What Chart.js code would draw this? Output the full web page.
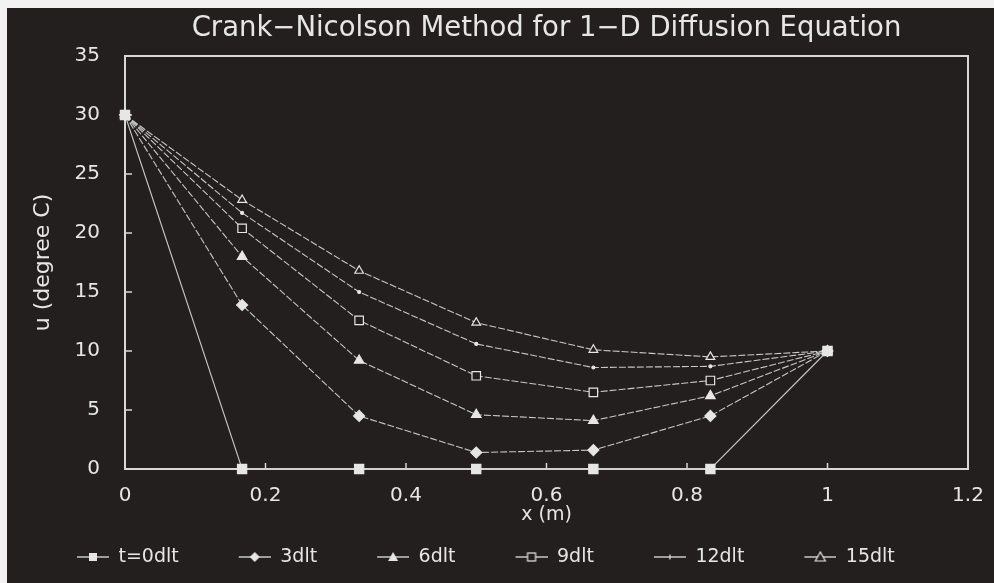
<!DOCTYPE html>
<html>
<head>
<meta charset="utf-8">
<title>Crank-Nicolson 1-D diffusion</title>
<script src="https://cdn.jsdelivr.net/npm/chart.js@4.4.1/dist/chart.umd.min.js"></script>
<style>
  html, body { margin: 0; padding: 0; background: #f2f2f2; }
  #panel { position: absolute; left: 7px; top: 8px; width: 987px; height: 575px; background: #231f1f; }
  canvas { display: block; }
</style>
</head>
<body>
<div id="panel"><canvas id="cn" width="987" height="575"></canvas></div>
<script>
// grid nodes along the rod (m)
const xPos = [0, 0.1667, 0.3333, 0.5, 0.6667, 0.8333, 1];

// temperature profiles u (degree C) at successive time levels
const seriesNames = ['t=0dlt', '3dlt', '6dlt', '9dlt', '12dlt', '15dlt'];
const u0  = [30, 0, 0, 0, 0, 0, 10];
const u3  = [30, 13.9, 4.5, 1.4, 1.6, 4.5, 10];
const u6  = [30, 18.0, 9.2, 4.6, 4.1, 6.2, 10];
const u9  = [30, 20.4, 12.6, 7.9, 6.5, 7.5, 10];
const u12 = [30, 21.7, 15.0, 10.6, 8.6, 8.7, 10];
const u15 = [30, 22.8, 16.8, 12.4, 10.1, 9.5, 10];

const INK = '#e6e6e6';
const LINE = '#c8c8c8';
const BG = '#231f1f';

Chart.defaults.font.family = "'DejaVu Sans', sans-serif";
Chart.defaults.color = INK;

// marker looks per series
const markers = [
  { kind: 'sq',   pointStyle: 'rect',     radius: 6.5, fill: INK },
  { kind: 'dia',  pointStyle: 'rectRot',  radius: 5.5, fill: INK },
  { kind: 'tri',  pointStyle: 'triangle', radius: 5.5, fill: INK },
  { kind: 'osq',  pointStyle: 'rect',     radius: 6,   fill: BG },
  { kind: 'dot',  pointStyle: 'circle',   radius: 1.5, fill: INK },
  { kind: 'otri', pointStyle: 'triangle', radius: 5,   fill: BG }
];

// legend symbol: short line with the marker, padded on the left
function makeIcon(kind) {
  const c = document.createElement('canvas');
  c.width = 82; c.height = 16;
  const g = c.getContext('2d');
  const cx = 66, cy = 8;
  g.strokeStyle = LINE; g.lineWidth = 1.5;
  g.beginPath(); g.moveTo(50, cy); g.lineTo(82, cy); g.stroke();
  g.fillStyle = INK; g.strokeStyle = INK; g.lineWidth = 1.2;
  g.beginPath();
  if (kind === 'sq') { g.fillRect(cx - 4, cy - 4, 8, 8); }
  else if (kind === 'osq') { g.fillStyle = BG; g.fillRect(cx - 4, cy - 4, 8, 8); g.strokeRect(cx - 4, cy - 4, 8, 8); }
  else if (kind === 'dia') { g.moveTo(cx, cy - 5); g.lineTo(cx + 5, cy); g.lineTo(cx, cy + 5); g.lineTo(cx - 5, cy); g.closePath(); g.fill(); }
  else if (kind === 'tri' || kind === 'otri') {
    g.moveTo(cx, cy - 5); g.lineTo(cx + 5, cy + 4); g.lineTo(cx - 5, cy + 4); g.closePath();
    if (kind === 'tri') g.fill(); else { g.fillStyle = BG; g.fill(); g.stroke(); }
  }
  else if (kind === 'dot') { g.moveTo(cx, cy - 2.5); g.lineTo(cx, cy + 2.5); g.stroke(); }
  return c;
}
const legendIcons = markers.map(m => makeIcon(m.kind));

const profiles = [u0, u3, u6, u9, u12, u15];
const datasets = profiles.map((vals, i) => ({
  label: seriesNames[i],
  data: xPos.map((x, j) => ({ x: x, y: vals[j] })),
  borderColor: LINE,
  borderWidth: 1.1,
  borderDash: i === 0 ? [] : [7, 2],
  pointStyle: markers[i].pointStyle,
  pointRadius: markers[i].radius,
  pointBackgroundColor: markers[i].fill,
  pointBorderColor: INK,
  pointBorderWidth: 1.2,
  tension: 0,
  clip: false
}));

// plot frame with inward tick marks
const framePlugin = {
  id: 'frame',
  beforeDatasetsDraw(chart) {
    const { ctx, chartArea: a, scales: { x, y } } = chart;
    ctx.save();
    ctx.strokeStyle = '#d8d8d8';
    ctx.lineWidth = 2;
    ctx.strokeRect(a.left, a.top, a.right - a.left, a.bottom - a.top);
    ctx.lineWidth = 1.5;
    ctx.beginPath();
    y.ticks.forEach(t => {
      const py = y.getPixelForValue(t.value);
      ctx.moveTo(a.left, py); ctx.lineTo(a.left + 7, py);
    });
    x.ticks.forEach(t => {
      const px = x.getPixelForValue(t.value);
      ctx.moveTo(px, a.bottom); ctx.lineTo(px, a.bottom - 6);
    });
    ctx.stroke();
    ctx.restore();
  }
};

new Chart(document.getElementById('cn'), {
  type: 'line',
  data: { datasets },
  plugins: [framePlugin],
  options: {
    responsive: false,
    animation: false,
    layout: { padding: { left: 10, right: 26, top: 0, bottom: 6.5 } },
    scales: {
      x: {
        type: 'linear', min: 0, max: 1.2,
        grid: { display: false, drawTicks: false },
        border: { display: false },
        ticks: {
          stepSize: 0.2, padding: 15, font: { size: 20 }, color: INK, maxRotation: 0,
          callback: v => String(Number(v.toFixed(2)))
        },
        title: { display: true, text: 'x (m)', font: { size: 19 }, color: INK, padding: { top: 0, bottom: 11 } },
        afterFit: s => { s.height = 68.5; s.paddingLeft = 0; s.paddingRight = 0; }
      },
      y: {
        min: 0, max: 35,
        grid: { display: false, drawTicks: false },
        border: { display: false },
        ticks: { stepSize: 5, padding: 25, font: { size: 20 }, color: INK },
        title: { display: true, text: 'u (degree C)', font: { size: 22 }, color: INK, padding: { top: 13, bottom: 0 } },
        afterFit: s => { s.width = 108; }
      }
    },
    plugins: {
      title: {
        display: true,
        fullSize: false,
        text: 'Crank\u2212Nicolson Method for 1\u2212D Diffusion Equation',
        color: INK,
        font: { size: 27.5, weight: 'normal' },
        padding: { top: 4, bottom: 11 }
      },
      legend: {
        position: 'bottom',
        align: 'start',
        labels: {
          usePointStyle: true,
          pointStyleWidth: 82,
          padding: 10,
          color: INK,
          font: { size: 19 },
          generateLabels: chart => chart.data.datasets.map((ds, i) => ({
            text: ds.label,
            pointStyle: legendIcons[i],
            fontColor: INK,
            fillStyle: 'transparent',
            strokeStyle: 'transparent',
            lineWidth: 0,
            hidden: false,
            datasetIndex: i
          }))
        }
      },
      tooltip: { enabled: false }
    }
  }
});
</script>
</body>
</html>
